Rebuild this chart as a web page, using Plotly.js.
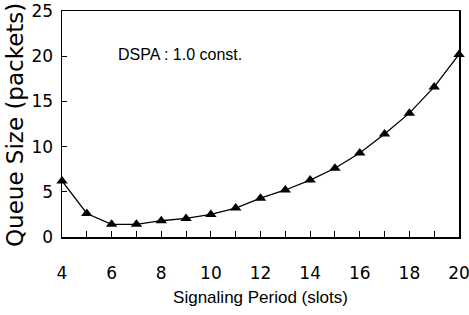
<!DOCTYPE html>
<html><head><meta charset="utf-8">
<script src="https://cdn.plot.ly/plotly-3.0.1.min.js"></script>
<style>html,body{margin:0;padding:0;background:#fff;}#chart{width:469px;height:315px;}</style>
</head><body><div id="chart"></div>
<script>
const periods = [4,5,6,7,8,9,10,11,12,13,14,15,16,17,18,19,20];
const queueSize = [6.2,2.6,1.4,1.4,1.8,2.05,2.5,3.2,4.3,5.2,6.3,7.6,9.3,11.4,13.7,16.6,20.2];
const xTicks = [4,6,8,10,12,14,16,18,20];
const yTicks = [0,5,10,15,20,25];

const trace = {
  x: periods, y: queueSize, type: 'scatter', mode: 'lines+markers',
  line: {color: '#000', width: 1.3},
  marker: {symbol: 'triangle-up', size: 10, color: '#000'},
  cliponaxis: false, showlegend: false
};
const pw = 469 - 62 - 10, ph = 315 - 11 - 78;
const layout = {
  width: 469, height: 315,
  margin: {l: 62, r: 10, t: 11, b: 78},
  paper_bgcolor: '#fff', plot_bgcolor: '#fff',
  font: {family: 'DejaVu Sans, sans-serif', color: '#000', size: 17},
  xaxis: {
    range: [4, 20], tickvals: xTicks, ticktext: xTicks.map(String),
    showgrid: false, zeroline: false, showline: true, mirror: true,
    linecolor: '#000', linewidth: 1.5,
    ticks: 'inside', ticklen: 6, tickcolor: '#000',
    minor: {ticks: 'inside', ticklen: 6, tickcolor: '#000', dtick: 1, tick0: 4},
    ticklabelstandoff: 20, ticklabeloverflow: 'allow',
    tickfont: {family: 'DejaVu Sans, sans-serif', size: 17},
    title: {text: 'Signaling Period (slots)', standoff: 9,
      font: {family: 'Liberation Sans, Arial, sans-serif', size: 17}}
  },
  yaxis: {
    range: [0, 25], tickvals: yTicks, ticktext: yTicks.map(String),
    showgrid: false, zeroline: false, showline: true, mirror: true,
    linecolor: '#000', linewidth: 1.5,
    ticks: 'inside', ticklen: 5, tickcolor: '#000',
    ticklabelstandoff: 4,
    tickfont: {family: 'DejaVu Sans, sans-serif', size: 17}
  },
  annotations: [{
    text: 'DSPA : 1.0 const.', x: (116 - 62) / pw, y: (237 - 55) / ph,
    xref: 'paper', yref: 'paper',
    showarrow: false, xanchor: 'left', yanchor: 'middle',
    font: {family: 'Liberation Sans, Arial, sans-serif', size: 16, color: '#000'}
  }, {
    text: 'Queue Size (packets)', textangle: -90,
    x: (15 - 62) / pw, y: (237 - 249) / ph, xref: 'paper', yref: 'paper',
    showarrow: false, xanchor: 'center', yanchor: 'bottom',
    font: {family: 'DejaVu Sans, sans-serif', size: 23, color: '#000'}
  }]
};
Plotly.newPlot('chart', [trace], layout, {staticPlot: true});
</script></body></html>
